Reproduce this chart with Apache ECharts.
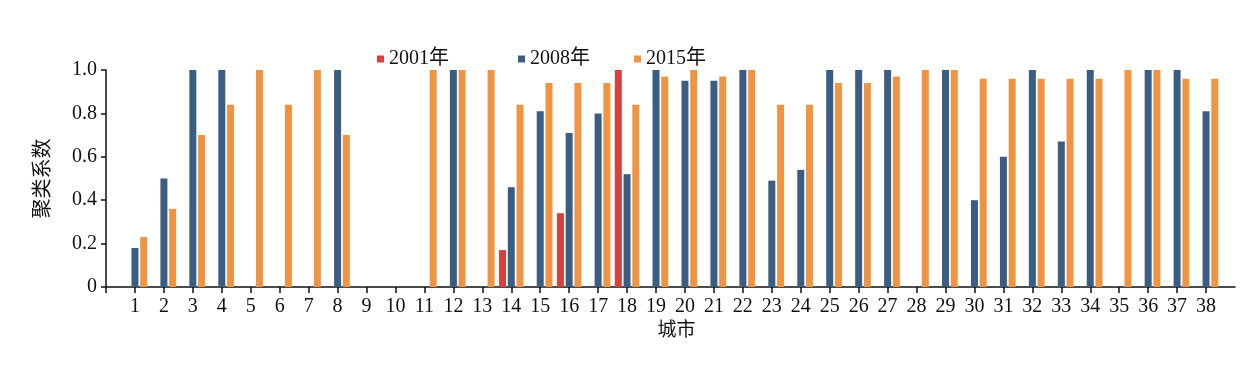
<!DOCTYPE html>
<html>
<head>
<meta charset="utf-8">
<script src="https://cdn.jsdelivr.net/npm/echarts@6/dist/echarts.min.js"></script>
<style>
html,body{margin:0;padding:0;background:#fff;}
#chart{width:1254px;height:380px;}
</style>
</head>
<body>
<div id="chart"></div>
<script>
const cities = ['1','2','3','4','5','6','7','8','9','10','11','12','13','14','15','16','17','18','19','20','21','22','23','24','25','26','27','28','29','30','31','32','33','34','35','36','37','38'];
const s2001 = [0,0,0,0,0,0,0,0,0,0,0,0,0,0.17,0,0.34,0,1.0,0,0,0,0,0,0,0,0,0,0,0,0,0,0,0,0,0,0,0,0];
const s2008 = [0.18,0.50,1.0,1.0,0,0,0,1.0,0,0,0,1.0,0,0.46,0.81,0.71,0.80,0.52,1.0,0.95,0.95,1.0,0.49,0.54,1.0,1.0,1.0,0,1.0,0.40,0.60,1.0,0.67,1.0,0,1.0,1.0,0.81];
const s2015 = [0.23,0.36,0.70,0.84,1.0,0.84,1.0,0.70,0,0,1.0,1.0,1.0,0.84,0.94,0.94,0.94,0.84,0.97,1.0,0.97,1.0,0.84,0.84,0.94,0.94,0.97,1.0,1.0,0.96,0.96,0.96,0.96,0.96,1.0,1.0,0.96,0.96];
const seriesNames = ['2001年','2008年','2015年'];
const yTicks = [0, 0.2, 0.4, 0.6, 0.8, 1.0];

const colors = ['#d8403d', '#3b5d82', '#ef9443'];
const FONT = "'Liberation Serif','Times New Roman','Noto Sans CJK SC',serif";

// pad with empty categories at both ends (axis starts one step before city 1)
const cats = [''].concat(cities, ['']);
const pad = arr => [null].concat(arr.map(v => v === 0 ? null : v), [null]);

const chart = echarts.init(document.getElementById('chart'), null, {renderer: 'canvas'});
const legendBase = {
  top: 44, itemWidth: 7, itemHeight: 7, icon: 'rect', itemGap: 6,
  textStyle: {fontFamily: FONT, fontSize: 20, color: '#111'}
};
chart.setOption({
  animation: false,
  backgroundColor: '#fff',
  color: colors,
  legend: [
    Object.assign({left: 372, data: [seriesNames[0]]}, legendBase),
    Object.assign({left: 513, data: [seriesNames[1]]}, legendBase),
    Object.assign({left: 629, data: [seriesNames[2]]}, legendBase)
  ],
  grid: {left: 106, right: 19, top: 70, bottom: 93, containLabel: false},
  xAxis: {
    type: 'category',
    data: cats,
    boundaryGap: false,
    name: '城市',
    nameLocation: 'middle',
    nameGap: 33,
    nameTextStyle: {fontFamily: FONT, fontSize: 19, color: '#111', padding: [0, 0, 0, 12]},
    axisLine: {lineStyle: {color: '#111', width: 1.5}},
    axisTick: {length: 6, lineStyle: {color: '#111', width: 1.5},
      interval: (i) => i < cats.length - 1},
    axisLabel: {interval: 0, margin: 10, fontFamily: FONT, fontSize: 20, color: '#111'},
    splitLine: {show: false}
  },
  yAxis: {
    type: 'value',
    min: yTicks[0],
    max: yTicks[yTicks.length - 1],
    interval: 0.2,
    name: '聚类系数',
    nameLocation: 'middle',
    nameGap: 52,
    nameRotate: 90,
    nameTextStyle: {fontFamily: FONT, fontSize: 20, color: '#111'},
    axisLine: {show: true, lineStyle: {color: '#111', width: 1.5}},
    axisTick: {show: true, length: 5, lineStyle: {color: '#111', width: 1.5}},
    axisLabel: {margin: 9, fontFamily: FONT, fontSize: 20, color: '#111',
      formatter: v => v === 0 ? '0' : v.toFixed(1)},
    splitLine: {show: false}
  },
  series: [
    {name: seriesNames[0], type: 'bar', data: pad(s2001), barWidth: 7, barGap: '25%'},
    {name: seriesNames[1], type: 'bar', data: pad(s2008), barWidth: 7, barGap: '25%'},
    {name: seriesNames[2], type: 'bar', data: pad(s2015), barWidth: 7, barGap: '25%'}
  ]
});
</script>
</body>
</html>
